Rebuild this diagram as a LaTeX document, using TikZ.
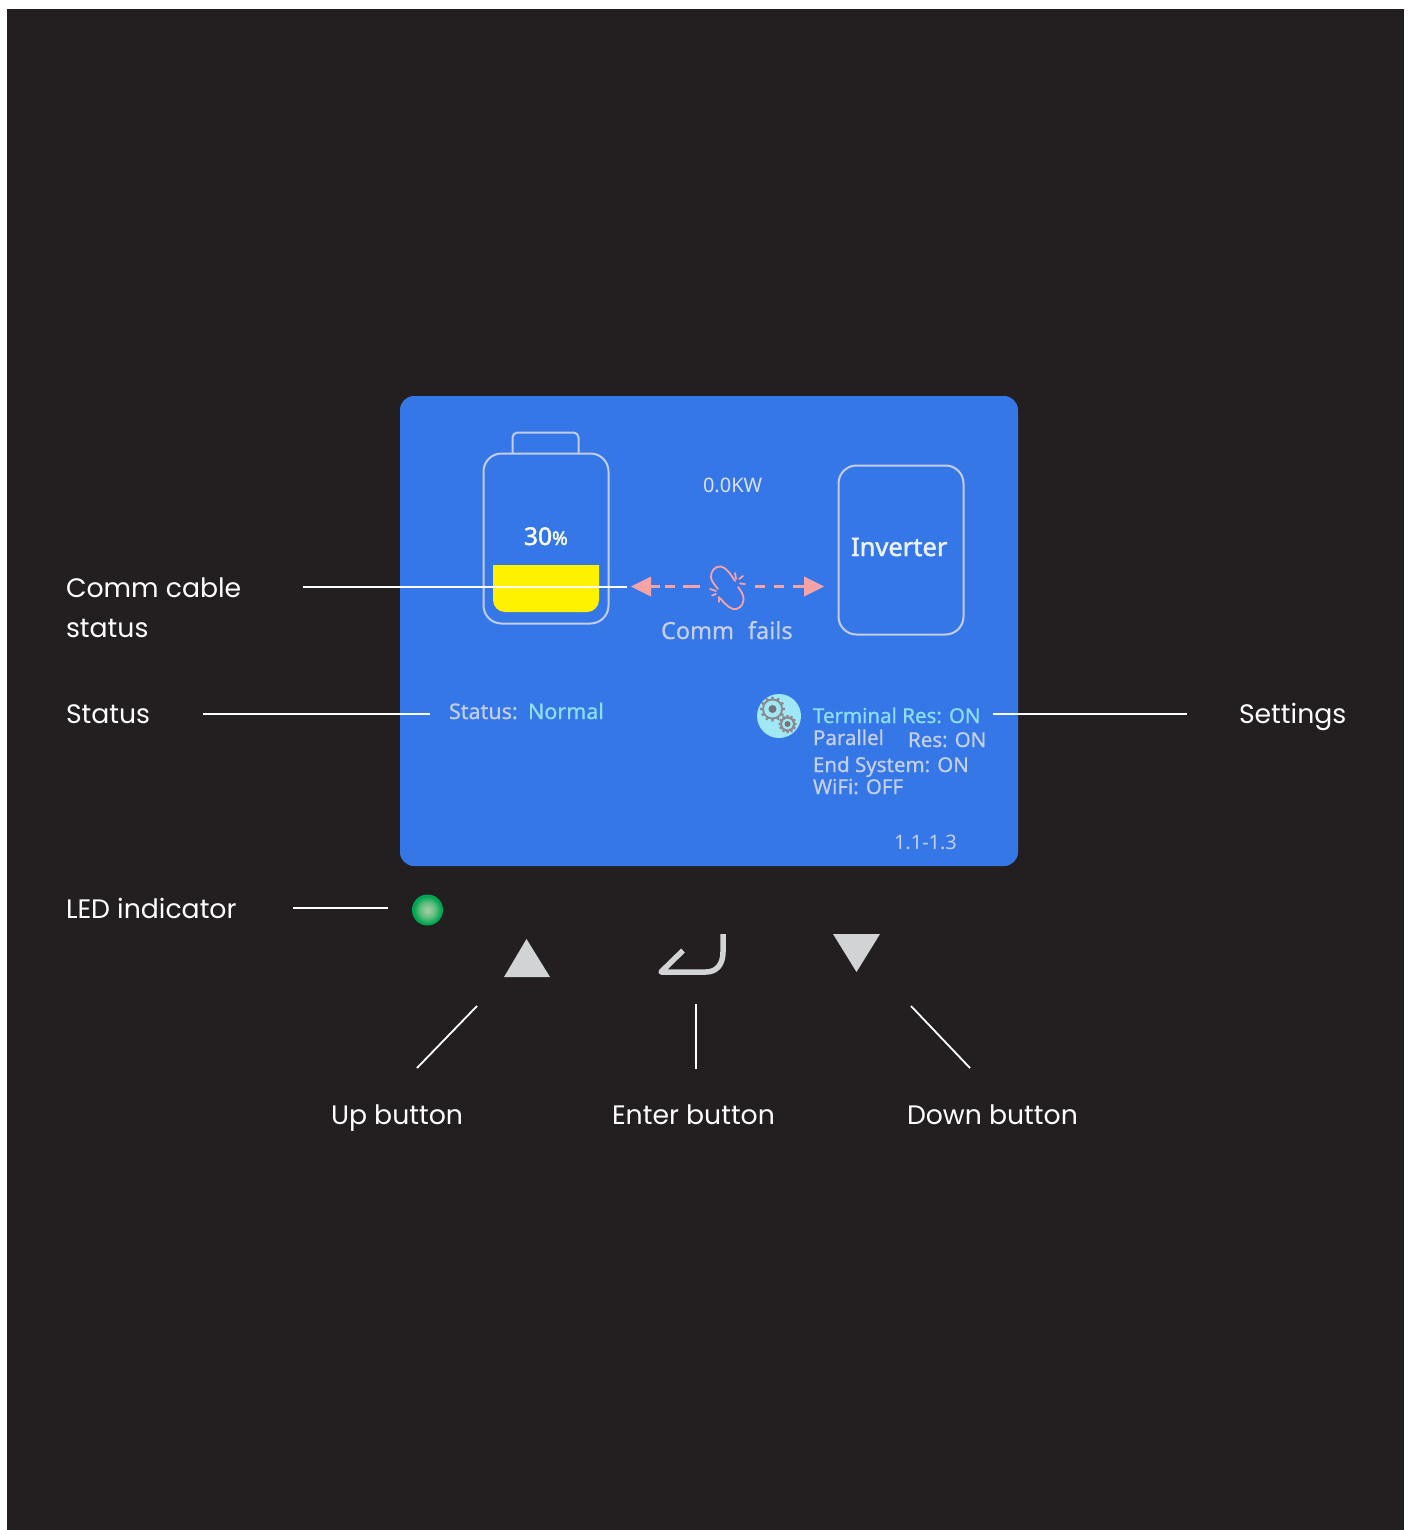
\documentclass[tikz,border=0pt]{standalone}
\usepackage{fontspec}
\setmainfont{Poppins}
\newfontfamily\screenfont[FakeBold=0.6]{Noto Sans}
\newfontfamily\screenbold[FakeBold=1.8]{Noto Sans}
\newfontfamily\screenthin{Noto Sans}
\usetikzlibrary{arrows.meta}
\definecolor{bgdark}{HTML}{231F20}
\definecolor{panelblue}{HTML}{3677E8}
\definecolor{outlinegrey}{HTML}{C3CDE6}
\definecolor{pinkred}{HTML}{F7A3A6}
\definecolor{batteryyellow}{HTML}{FFF200}
\definecolor{keygrey}{HTML}{D1D3D4}
\definecolor{screengrey}{HTML}{C4CFE8}
\definecolor{screencyan}{HTML}{8FDFFB}
\definecolor{gearbg}{HTML}{A0E8F5}
\definecolor{geargrey}{HTML}{8A8A8E}
\definecolor{ledgreen}{HTML}{00A651}
\definecolor{ledmid}{HTML}{5FBB7F}
\definecolor{ledcore}{HTML}{98CC9C}
\pgfdeclareradialshading{ledshade}{\pgfpoint{0bp}{0bp}}{%
  color(0bp)=(ledcore); color(3bp)=(ledcore);
  color(13bp)=(ledmid); color(22bp)=(ledgreen); color(50bp)=(ledgreen)}
\tikzset{
  x=1pt,y=-1pt,
  callout/.style={draw=white,line width=1.8pt},
  label/.style={text=white,anchor=base west,inner sep=0pt,outer sep=0pt,font=\fontsize{26.7}{30}\selectfont},
  scr/.style={anchor=base west,inner sep=0pt,outer sep=0pt,text=screengrey},
  outlinebox/.style={draw=outlinegrey,line width=2pt},
  dashpink/.style={draw=pinkred,line width=3.3pt},
  headpink/.style={fill=pinkred,draw=none},
  linkpink/.style={draw=pinkred,line width=1.8pt,line cap=round},
  keyshape/.style={fill=keygrey,draw=none}
}
\newcommand{\drawgear}[5]{% x y rOuter rInner rHole
  \fill[geargrey] (#1,#2) circle[radius=#4];
  \foreach \a in {0,30,...,330}{
    \fill[geargrey,shift={(#1,#2)},rotate=\a] (#4-1,-1.4) -- (#3,-1) -- (#3,1) -- (#4-1,1.4) -- cycle;
  }
  \fill[gearbg] (#1,#2) circle[radius=#4-2];
  \fill[geargrey!85!black] (#1,#2) circle[radius=#5];
}
\begin{document}
\begin{tikzpicture}
\useasboundingbox (0,0) rectangle (1410,1530);
\fill[white] (0,0) rectangle (1410,1530);
\fill[bgdark] (7,9) rectangle (1404,1530);
% panel
\fill[panelblue,rounded corners=14pt] (400,396) rectangle (1018,866);
% battery
\draw[outlinebox,rounded corners=5pt] (512.5,453) -- (512.5,432.5) -- (578.5,432.5) -- (578.5,453);
\draw[outlinebox,rounded corners=18pt] (483.5,453.5) rectangle (608.5,623.5);
\fill[batteryyellow] (493,565) -- (599,565) -- (599,600) arc[start angle=0,end angle=90,radius=12] -- (505,612) arc[start angle=90,end angle=180,radius=12] -- cycle;
% inverter box
\draw[outlinebox,rounded corners=18pt] (838.5,465.5) rectangle (963.5,634.5);
% screen texts
\node[scr,text=white,font=\screenbold\fontsize{24.5}{26}\selectfont] (pct) at (524,545) {30\fontsize{19}{20}\selectfont\%};
\node[scr,text=outlinegrey!60!white,font=\screenthin\fontsize{20}{24}\selectfont] (power) at (703,492) {0.0KW};
\node[scr,text=white!90!panelblue,font=\screenbold\fontsize{25.5}{28}\selectfont] (inv) at (851,556) {Inverter};
\node[scr,font=\screenfont\fontsize{23.5}{26}\selectfont] (fail) at (661,639) {Comm\hspace{14pt}fails};
\node[scr,font=\screenfont\fontsize{21.5}{24}\selectfont] (st) at (449,719) {Status:};
\node[scr,text=screencyan,font=\screenfont\fontsize{21.5}{24}\selectfont] (norm) at (528,719) {Normal};
\node[scr,text=screencyan,font=\screenfont\fontsize{20.5}{24}\selectfont] (term) at (813,723) {Terminal Res: ON};
\node[scr,font=\screenfont\fontsize{20.5}{24}\selectfont] (par) at (813,745) {Parallel};
\node[scr,font=\screenfont\fontsize{20.5}{24}\selectfont] (pres) at (908,747) {Res: ON};
\node[scr,font=\screenfont\fontsize{20.5}{24}\selectfont] (endsys) at (813,772) {End System: ON};
\node[scr,font=\screenfont\fontsize{20.5}{24}\selectfont] (wifi) at (813,794) {WiFi: OFF};
\node[scr,font=\screenthin\fontsize{20}{22}\selectfont] (ver) at (894,849) {1.1-1.3};
% arrows
\fill[headpink] (631,586.5) -- (651,576.5) -- (651,596.5) -- cycle;
\fill[headpink] (824,586.5) -- (804,576.5) -- (804,596.5) -- cycle;
\draw[dashpink] (650,586.5) -- (660,586.5) (665,586.5) -- (675,586.5) (683,586.5) -- (700,586.5);
\draw[dashpink] (755,586.5) -- (765,586.5) (774,586.5) -- (784,586.5) (793,586.5) -- (805,586.5);
% broken link
\draw[linkpink] (735,581) .. controls (731,575) and (727,568) .. (721,566.5) .. controls (715,565.5) and (710,572) .. (711,578) .. controls (712,582) and (715,585) .. (718,589);
\draw[linkpink] (738,587) .. controls (741,591) and (744,595) .. (743.5,600) .. controls (743,606) and (738,610) .. (733,609) .. controls (727,607) and (723,601) .. (718.5,597);
\draw[linkpink] (735,573)--(736,579) (739,579)--(743,576) (740,583.5)--(745,584);
\draw[linkpink] (710,589)--(716,591) (712,595.5)--(716,594) (719,598)--(719,602);
% gear badge
\fill[gearbg] (779,716) circle[radius=22];
\drawgear{772.5}{709}{12.5}{10.5}{4}
\drawgear{787.5}{724}{9}{7.5}{3}
% LED
\shade[shading=ledshade] (427.5,910) circle[radius=15.5];
% keys
\fill[keyshape] (504,977) -- (550,977) -- (526.5,939) -- cycle;
\fill[keyshape] (833,934) -- (880,934) -- (856.5,972) -- cycle;
\draw[keygrey,line width=5.5pt,line join=round] (723,934) -- (723,952) .. controls (723,964) and (717,972) .. (706,972) -- (661,972) -- (683,950.5);
% labels
\node[label] (lcomm) at (66,597) {Comm cable};
\node[label] (lcomm2) at (66,637) {status};
\node[label] (lstatus) at (66,723) {Status};
\node[label] (lled) at (66,918) {LED indicator};
\node[label] (lset) at (1239,723) {Settings};
\node[label] (lup) at (331,1124) {Up button};
\node[label] (lenter) at (612,1124) {Enter button};
\node[label] (ldown) at (907,1124) {Down button};
% connectors
\coordinate (c1a) at (303,587); \coordinate (c1b) at (627,587);
\coordinate (c2a) at (203,714); \coordinate (c2b) at (430,714);
\coordinate (c3a) at (993,714); \coordinate (c3b) at (1187,714);
\coordinate (c4a) at (293,908); \coordinate (c4b) at (388,908);
\coordinate (c5a) at (477,1006); \coordinate (c5b) at (417,1068);
\coordinate (c6a) at (696,1004); \coordinate (c6b) at (696,1069);
\coordinate (c7a) at (911,1006); \coordinate (c7b) at (970,1068);
\draw[callout] (c1a) -- (c1b);
\draw[callout] (c2a) -- (c2b);
\draw[callout] (c3a) -- (c3b);
\draw[callout] (c4a) -- (c4b);
\draw[callout] (c5a) -- (c5b);
\draw[callout] (c6a) -- (c6b);
\draw[callout] (c7a) -- (c7b);
\end{tikzpicture}
\end{document}
